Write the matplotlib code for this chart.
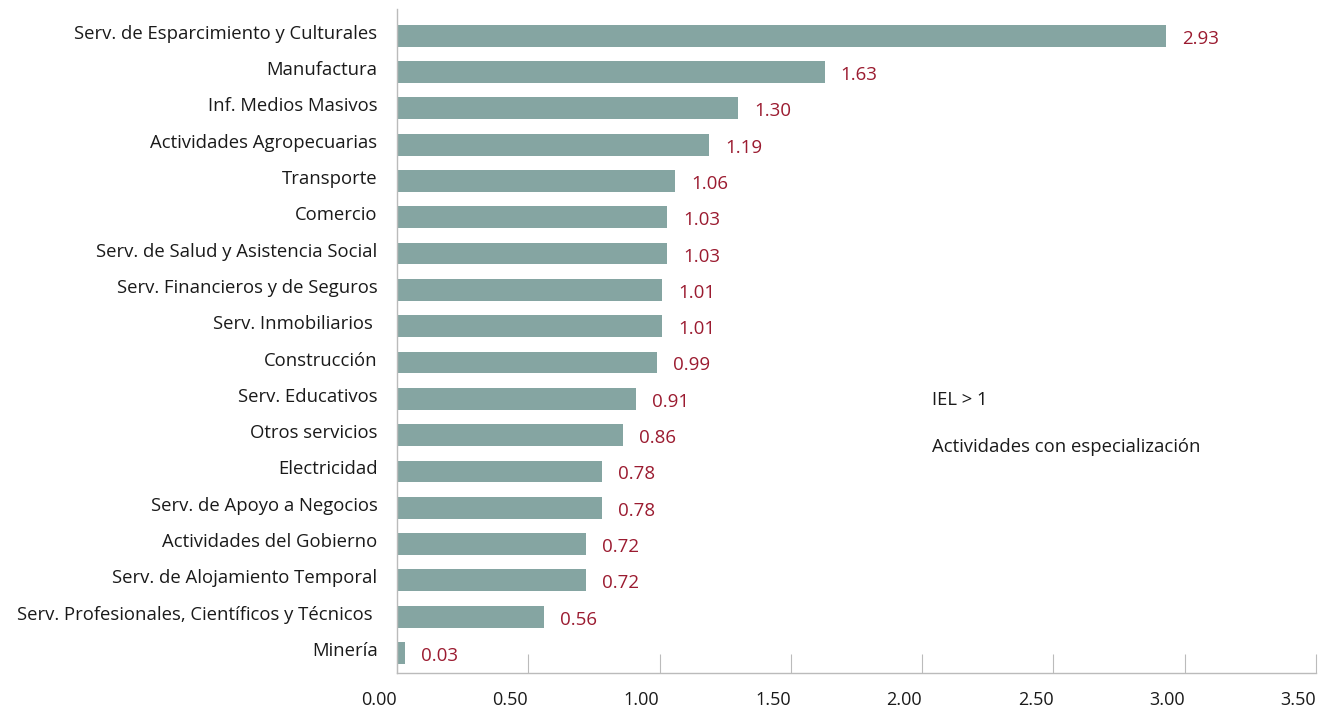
import matplotlib
matplotlib.use("Agg")
from matplotlib import pyplot as plt
from matplotlib import transforms

plt.rcParams['font.family'] = ['Open Sans', 'DejaVu Sans']

sectores = ["Serv. de Esparcimiento y Culturales", "Manufactura", "Inf. Medios Masivos",
            "Actividades Agropecuarias", "Transporte", "Comercio",
            "Serv. de Salud y Asistencia Social", "Serv. Financieros y de Seguros",
            "Serv. Inmobiliarios ", "Construcción", "Serv. Educativos", "Otros servicios",
            "Electricidad", "Serv. de Apoyo a Negocios", "Actividades del Gobierno",
            "Serv. de Alojamiento Temporal", "Serv. Profesionales, Científicos y Técnicos ",
            "Minería"]
iel = [2.93, 1.63, 1.30, 1.19, 1.06, 1.03, 1.03, 1.01, 1.01, 0.99, 0.91, 0.86,
       0.78, 0.78, 0.72, 0.72, 0.56, 0.03]
xticks = [0, 0.5, 1.0, 1.5, 2.0, 2.5, 3.0, 3.5]

fig = plt.figure(figsize=(13.3, 7.11), dpi=100)
ax = fig.add_axes([0.2985, 0.0535, 0.691, 0.934])

pos = list(range(len(iel)))
ax.barh(pos, iel, height=0.6, color='#85a5a2')
for p, v in zip(pos, iel):
    ax.text(v + 0.06, p + 0.08, "%.2f" % v, color='#9b1b30', fontsize=13.5,
            va='center', ha='left')

ax.set_ylim(17.55, -0.74)
ax.set_xlim(0, 3.5)
ax.set_yticks(pos)
ax.set_yticklabels(sectores, fontsize=13.3, color='#1a1a1a')
ax.set_xticks(xticks)
ax.set_xticklabels(["%.2f" % t for t in xticks], fontsize=13, color='#1a1a1a')
ax.tick_params(axis='y', length=0, pad=14)
ax.tick_params(axis='x', direction='in', length=13.5, color='#bbbbbb', pad=13)
for s in ['top', 'right']:
    ax.spines[s].set_visible(False)
for s in ['left', 'bottom']:
    ax.spines[s].set_color('#bbbbbb')
    ax.spines[s].set_linewidth(1)

# shift labels like the original
up = transforms.ScaledTranslation(0, 4 / 100, fig.dpi_scale_trans)
for lab in ax.get_yticklabels():
    lab.set_transform(lab.get_transform() + up)
left = transforms.ScaledTranslation(-18 / 100, 0, fig.dpi_scale_trans)
for lab in ax.get_xticklabels():
    lab.set_transform(lab.get_transform() + left)

ax.text(0.5816, 0.404, "IEL > 1", transform=ax.transAxes, fontsize=13.3, color='#1a1a1a')
ax.text(0.5816, 0.333, "Actividades con especialización", transform=ax.transAxes,
        fontsize=13.3, color='#1a1a1a')

fig.savefig("out.png", dpi=100, facecolor='w')
